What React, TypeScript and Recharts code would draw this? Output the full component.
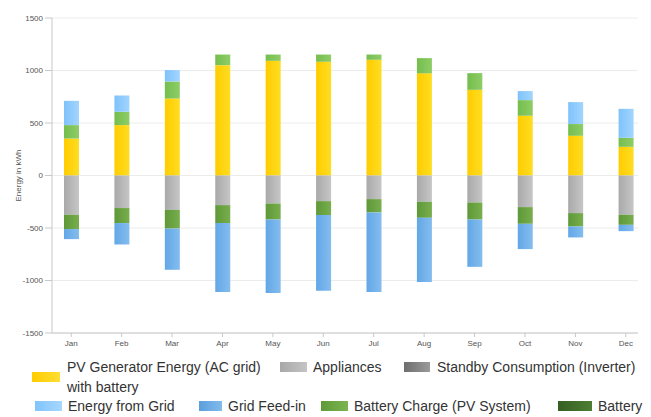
import { BarChart, Bar, XAxis, YAxis, CartesianGrid, Label } from 'recharts'

const months = ['Jan', 'Feb', 'Mar', 'Apr', 'May', 'Jun', 'Jul', 'Aug', 'Sep', 'Oct', 'Nov', 'Dec']
const pvEnergy = [352, 480, 733, 1051, 1092, 1083, 1102, 973, 816, 569, 378, 273]
const batteryDischarge = [128, 127, 162, 101, 60, 69, 50, 145, 159, 149, 112, 86]
const energyFromGrid = [231, 155, 109, 0, 0, 0, 0, 0, 0, 86, 209, 276]
const appliances = [-374, -310, -327, -282, -267, -244, -225, -250, -257, -301, -358, -374]
const batteryCharge = [-136, -143, -178, -171, -152, -133, -127, -153, -162, -159, -128, -96]
const gridFeedIn = [-96, -204, -393, -657, -701, -721, -758, -612, -451, -241, -104, -60]
const yTicks = [-1500, -1000, -500, 0, 500, 1000, 1500]

const data = months.map((month, i) => ({
  month,
  pv: pvEnergy[i],
  appliances: appliances[i],
  battery: batteryDischarge[i],
  batteryCharge: batteryCharge[i],
  fromGrid: energyFromGrid[i],
  feedIn: gridFeedIn[i],
}))

// legend swatches: [from, to]
const legendItems = [
  { name: 'PV Generator Energy (AC grid)\nwith battery', c: ['#ffcc00', '#ffdd33'], x: 32, y: 372, w: 28, tx: 67, ty: 357 },
  { name: 'Appliances', c: ['#a8a8a8', '#c4c4c4'], x: 280, y: 362, w: 27, tx: 313, ty: 357 },
  { name: 'Standby Consumption (Inverter)', c: ['#6e6e6e', '#9a9a9a'], x: 404, y: 362, w: 26, tx: 437, ty: 357 },
  { name: 'Energy from Grid', c: ['#80c4fb', '#a6d7ff'], x: 35, y: 401, w: 27, tx: 68, ty: 396 },
  { name: 'Grid Feed-in', c: ['#5c9fdc', '#82bbec'], x: 199, y: 401, w: 23, tx: 228, ty: 396 },
  { name: 'Battery Charge (PV System)', c: ['#5f9a38', '#7bb552'], x: 321, y: 401, w: 27, tx: 354, ty: 396 },
  { name: 'Battery', c: ['#355f22', '#4d7e33'], x: 558, y: 401, w: 34, tx: 598, ty: 396 },
]

function grad(id: string, a: string, b: string) {
  return (
    <linearGradient id={id} x1="0" y1="0" x2="1" y2="0">
      <stop offset="0%" stopColor={a} />
      <stop offset="100%" stopColor={b} />
    </linearGradient>
  )
}

export default function App() {
  return (
    <div
      style={{
        position: 'absolute',
        left: 0,
        top: 0,
        width: 651,
        height: 417,
        background: '#fff',
        fontFamily: '"Liberation Sans", Arial, sans-serif',
        overflow: 'hidden',
      }}
    >
      <BarChart
        width={651}
        height={352}
        data={data}
        stackOffset="sign"
        margin={{ top: 18, right: 13, left: 0, bottom: 1 }}
      >
        <defs>
          {grad('gPv', '#ffcc00', '#ffdd22')}
          {grad('gApp', '#a9a9a9', '#c6c6c6')}
          {grad('gBat', '#74bd4e', '#8fcd66')}
          {grad('gCharge', '#5e9838', '#78ae4e')}
          {grad('gGrid', '#7fc2fa', '#a2d5ff')}
          {grad('gFeed', '#62a7e6', '#84bdef')}
        </defs>
        <CartesianGrid vertical={false} stroke="#ececec" />
        <XAxis
          dataKey="month"
          height={18}
          padding={{ left: -6, right: -13 }}
          tick={{ fill: '#555', fontSize: 8 }}
          tickSize={4}
          tickMargin={3}
          axisLine={{ stroke: '#c8c8c8' }}
          tickLine={{ stroke: '#c8c8c8' }}
          interval={0}
        />
        <YAxis
          width={52}
          domain={[-1500, 1500]}
          ticks={yTicks}
          tick={{ fill: '#555', fontSize: 8 }}
          tickSize={7}
          tickMargin={2}
          axisLine={{ stroke: '#c8c8c8' }}
          tickLine={{ stroke: '#c8c8c8' }}
        >
          <Label
            content={({ viewBox }: any) => {
              const cy = viewBox.y + viewBox.height / 2
              return (
                <text
                  x={19}
                  y={cy}
                  transform={`rotate(-90 19 ${cy})`}
                  textAnchor="middle"
                  dominantBaseline="middle"
                  fontSize={8}
                  fill="#555"
                >
                  Energy in kWh
                </text>
              )
            }}
          />
        </YAxis>
        <Bar dataKey="pv" stackId="a" fill="url(#gPv)" barSize={15} isAnimationActive={false} />
        <Bar dataKey="appliances" stackId="a" fill="url(#gApp)" barSize={15} isAnimationActive={false} />
        <Bar dataKey="battery" stackId="a" fill="url(#gBat)" barSize={15} isAnimationActive={false} />
        <Bar dataKey="batteryCharge" stackId="a" fill="url(#gCharge)" barSize={15} isAnimationActive={false} />
        <Bar dataKey="fromGrid" stackId="a" fill="url(#gGrid)" barSize={15} isAnimationActive={false} />
        <Bar dataKey="feedIn" stackId="a" fill="url(#gFeed)" barSize={15} isAnimationActive={false} />
      </BarChart>
      {legendItems.map((it) => (
        <div key={it.name}>
          <div
            style={{
              position: 'absolute',
              left: it.x,
              top: it.y,
              width: it.w,
              height: 10,
              background: `linear-gradient(to right, ${it.c[0]}, ${it.c[1]})`,
            }}
          />
          <div
            style={{
              position: 'absolute',
              left: it.tx,
              top: it.ty,
              fontSize: 14,
              lineHeight: '20px',
              color: '#333',
              whiteSpace: 'pre',
            }}
          >
            {it.name}
          </div>
        </div>
      ))}
    </div>
  )
}
